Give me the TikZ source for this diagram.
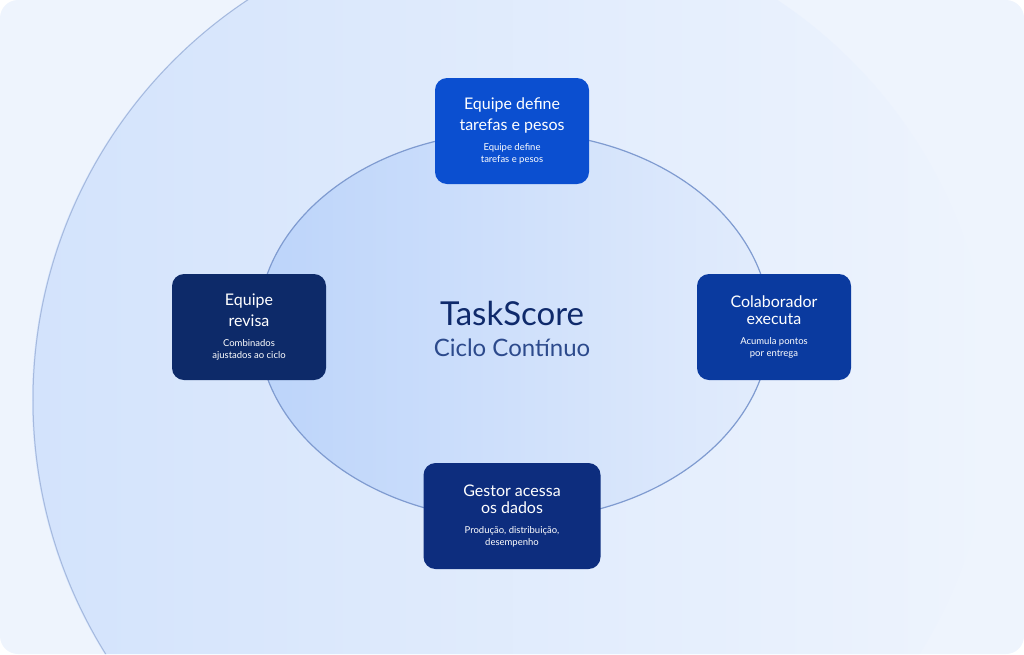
\documentclass[tikz,border=0pt]{standalone}
\usepackage{fontspec}
\setmainfont{Lato}
\usetikzlibrary{positioning}
\definecolor{bgpanel}{HTML}{EEF4FD}
\definecolor{outerring}{HTML}{D3E3FC}
\definecolor{innerleft}{HTML}{BCD4FA}
\definecolor{innerright}{HTML}{E2ECFC}
\definecolor{ringline}{HTML}{7F9BD0}
\definecolor{stepbright}{HTML}{0B4FD0}
\definecolor{stepmid}{HTML}{0A3A9F}
\definecolor{stepdark}{HTML}{0D2D7E}
\definecolor{stepnavy}{HTML}{0D2A69}
\definecolor{titleblue}{HTML}{0F2A6B}
\definecolor{subblue}{HTML}{2C4A8C}
\newcommand{\bigtxt}{\fontsize{16}{20}\selectfont}
\newcommand{\smalltxt}{\fontsize{9.5}{12}\selectfont}

\begin{document}
\begin{tikzpicture}[x=1pt,y=-1pt,
    phase/.style={rounded corners=12pt,minimum width=154pt,minimum height=106pt,
        text=white,align=center,inner sep=0pt}]
    \useasboundingbox (0,0) rectangle (1024,654);
    \fill[bgpanel,rounded corners=18pt] (0,0) rectangle (1024,654);

    \begin{scope}
        \clip[rounded corners=18pt] (0,0) rectangle (1024,654);
        \shade[left color=outerring,right color=bgpanel] (512,400) circle (480);
        \draw[ringline!70,line width=1pt] (33,400) arc (180:110:480);
        \draw[ringline!70,line width=1pt] (33,400) arc (180:250:480);
        \shade[left color=innerleft,right color=innerright] (514,326) ellipse (256 and 194);
        \draw[ringline,line width=1.2pt] (514,326) ellipse (256 and 194);
    \end{scope}

    \node[phase,fill=stepbright] (define) at (512,131)
        {\bigtxt Equipe define\\[5pt]\bigtxt tarefas e pesos\\[8pt]
         \smalltxt Equipe define\\\smalltxt tarefas e pesos};
    \node[phase,fill=stepmid] (executa) at (774,327)
        {\bigtxt Colaborador\\[5pt]\bigtxt executa\\[8pt]
         \smalltxt Acumula pontos\\\smalltxt por entrega};
    \node[phase,fill=stepdark,minimum width=177pt] (acessa) at (512,516)
        {\bigtxt Gestor acessa\\[5pt]\bigtxt os dados\\[8pt]
         \smalltxt Produção, distribuição,\\\smalltxt desempenho};
    \node[phase,fill=stepnavy] (revisa) at (249,327)
        {\bigtxt Equipe\\[5pt]\bigtxt revisa\\[8pt]
         \smalltxt Combinados\\\smalltxt ajustados ao ciclo};

    \node[text=titleblue,font=\fontsize{33}{38}\selectfont] (title) at (512,313) {TaskScore};
    \node[text=subblue,font=\fontsize{24}{28}\selectfont,below=6pt of title] (subtitle) {Ciclo Contínuo};
\end{tikzpicture}
\end{document}
